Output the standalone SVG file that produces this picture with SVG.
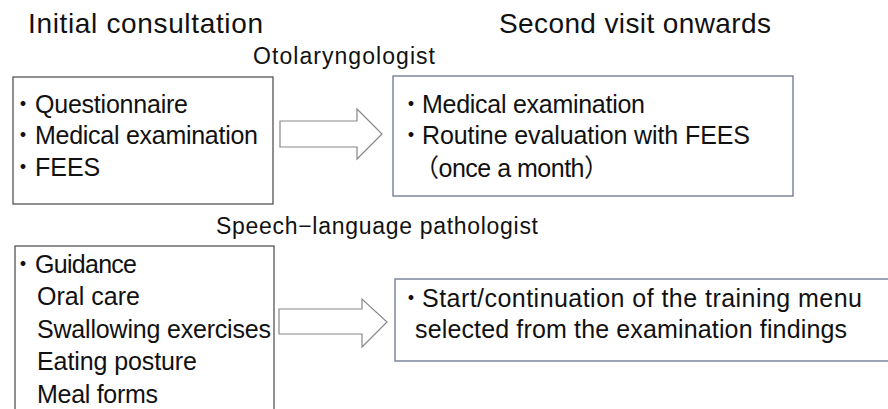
<svg xmlns="http://www.w3.org/2000/svg" width="888" height="409" viewBox="0 0 888 409">
<style>
  text { font-family: "Liberation Sans", "Noto Sans CJK JP", sans-serif; fill: #111; }
  .title { font-size: 28px; }
  .sub { font-size: 23px; }
  .item { font-size: 25px; }
  .bul { font-family: "Noto Sans CJK JP", sans-serif; font-size: 19px; font-weight: bold; text-anchor: middle; }
  .boxa { fill: #fff; stroke: #555; stroke-width: 1.3; }
  .boxb { fill: #fff; stroke: #7d879c; stroke-width: 1.5; }
  .arrow { fill: #fff; stroke: #888; stroke-width: 1.2; }
</style>
<rect width="888" height="409" fill="#fff"/>
<g id="labels">
  <text class="title" x="28" y="33" textLength="235" lengthAdjust="spacing">Initial consultation</text>
  <text class="title" x="499" y="33" textLength="272" lengthAdjust="spacing">Second visit onwards</text>
  <text class="sub" x="253" y="64" textLength="182" lengthAdjust="spacing">Otolaryngologist</text>
  <text class="sub" x="216" y="234" textLength="322" lengthAdjust="spacing">Speech−language pathologist</text>
</g>
<g id="connectors">
  <polygon class="arrow" points="280,121 357,121 357,109 382,134 357,159 357,147 280,147"/>
  <polygon class="arrow" points="279,309 362,309 362,299 387,322 362,347 362,334 279,334"/>
</g>
<g id="node-initial-ent">
  <rect class="boxa" x="13" y="77" width="260" height="127"/>
  <text class="bul" x="23" y="111">・</text>
  <text class="item" x="35" y="113" textLength="153" lengthAdjust="spacing">Questionnaire</text>
  <text class="bul" x="23" y="142">・</text>
  <text class="item" x="35" y="144" textLength="223" lengthAdjust="spacing">Medical examination</text>
  <text class="bul" x="23" y="174">・</text>
  <text class="item" x="35" y="176">FEES</text>
</g>
<g id="node-second-ent">
  <rect class="boxb" x="393" y="76" width="400" height="120"/>
  <text class="bul" x="411" y="111">・</text>
  <text class="item" x="422" y="113" textLength="223" lengthAdjust="spacing">Medical examination</text>
  <text class="bul" x="411" y="142">・</text>
  <text class="item" x="422" y="144" textLength="328" lengthAdjust="spacing">Routine evaluation with FEES</text>
  <text class="item" x="414" y="177" textLength="195" lengthAdjust="spacing">（once a month）</text>
</g>
<g id="node-initial-slp">
  <rect class="boxa" x="15" y="246" width="259" height="175"/>
  <text class="bul" x="23" y="271">・</text>
  <text class="item" x="35" y="273" textLength="102" lengthAdjust="spacing">Guidance</text>
  <text class="item" x="37" y="305" textLength="103" lengthAdjust="spacing">Oral care</text>
  <text class="item" x="37" y="338" textLength="234" lengthAdjust="spacing">Swallowing exercises</text>
  <text class="item" x="37" y="370" textLength="160" lengthAdjust="spacing">Eating posture</text>
  <text class="item" x="37" y="403" textLength="121" lengthAdjust="spacing">Meal forms</text>
</g>
<g id="node-second-slp">
  <rect class="boxb" x="395" y="279" width="500" height="82"/>
  <text class="bul" x="411" y="305">・</text>
  <text class="item" x="422" y="307" textLength="440" lengthAdjust="spacing">Start/continuation of the training menu</text>
  <text class="item" x="415" y="338" textLength="432" lengthAdjust="spacing">selected from the examination findings</text>
</g>
</svg>
